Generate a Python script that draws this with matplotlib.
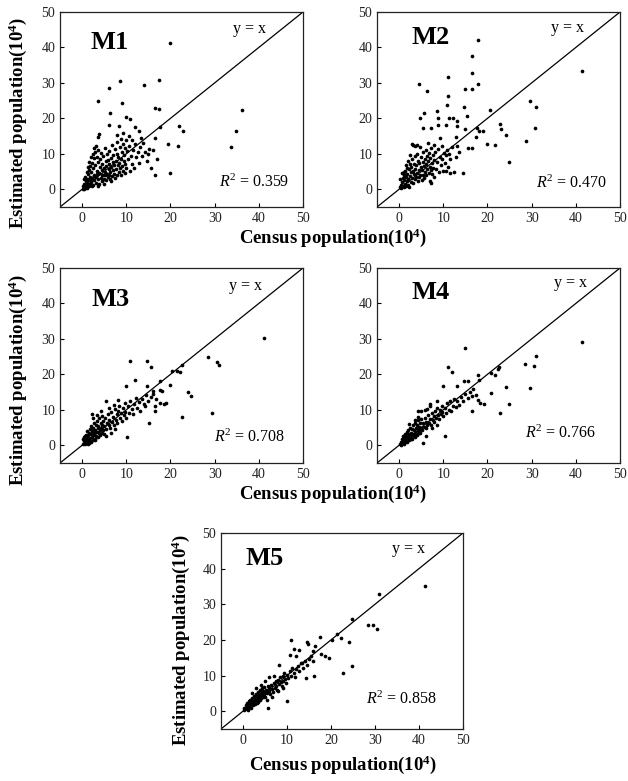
import matplotlib
matplotlib.use("Agg")
import matplotlib.pyplot as plt

plt.rcParams['font.family'] = ['Liberation Serif', 'DejaVu Serif']
plt.rcParams['mathtext.fontset'] = 'custom'
plt.rcParams['mathtext.rm'] = 'Liberation Serif'
plt.rcParams['mathtext.it'] = 'Liberation Serif:italic'
plt.rcParams['mathtext.bf'] = 'Liberation Serif:bold'

# ---------------- data (census, estimated) in 10^4 ----------------
m1_points = [
    (19.9, 41.3), (8.6, 30.6), (17.5, 30.8), (6.0, 28.5), (13.9, 29.4), (3.5, 24.9), (9.0, 24.2),
    (16.6, 22.9), (17.5, 22.7), (36.1, 22.4), (6.3, 21.5), (9.9, 20.5), (10.9, 19.9), (6.2, 18.0),
    (8.4, 17.9), (12.0, 17.6), (17.6, 17.7), (21.9, 17.9), (22.9, 16.5), (34.8, 16.3), (3.8, 15.6),
    (3.7, 14.7), (8.0, 15.4), (9.3, 15.8), (12.9, 16.5), (10.7, 14.9), (13.3, 14.6), (16.5, 14.5),
    (19.5, 12.8), (21.6, 12.2), (33.6, 12.0), (15.1, 11.4), (16.1, 11.0), (14.9, 10.0), (17.0, 8.5),
    (15.7, 6.0), (16.6, 3.9), (20.0, 4.5), (14.6, 8.1),
    (0.3, 0.8), (0.5, 1.5), (0.6, 0.4), (0.8, 2.2), (0.9, 1.0), (1.0, 3.0), (1.1, 0.6), (1.2, 1.8),
    (1.3, 4.2), (1.4, 2.6), (1.5, 0.9), (1.6, 5.5), (1.7, 3.4), (1.8, 1.4), (1.9, 6.5), (2.0, 2.0),
    (2.1, 4.8), (2.2, 7.5), (2.3, 3.1), (2.4, 1.2), (2.5, 5.9), (2.6, 8.8), (2.7, 2.5), (2.8, 4.0),
    (2.9, 10.5), (3.0, 6.8), (3.1, 1.8), (3.2, 3.6), (3.3, 9.2), (3.4, 5.1), (3.5, 2.9), (3.6, 7.7),
    (3.7, 11.0), (3.8, 4.5), (3.9, 1.5), (4.0, 6.2), (4.1, 8.5), (4.2, 3.3), (4.3, 10.2), (4.4, 5.4),
    (4.5, 2.2), (4.6, 7.0), (4.7, 4.1), (4.8, 9.4), (4.9, 6.0), (5.0, 3.0), (5.1, 11.5), (5.2, 5.0),
    (5.3, 7.9), (5.4, 2.6), (5.5, 6.6), (5.6, 9.9), (5.7, 4.3), (5.8, 8.3), (5.9, 3.5), (6.0, 5.8),
    (6.1, 10.8), (6.2, 7.2), (6.3, 2.9), (6.4, 4.9), (6.5, 8.9), (6.6, 6.3), (6.7, 3.8), (6.8, 12.5),
    (6.9, 5.3), (7.0, 7.6), (7.1, 9.6), (7.2, 4.4), (7.3, 6.8), (7.4, 3.2), (7.5, 11.3), (7.6, 8.0),
    (7.7, 5.6), (7.8, 10.0), (7.9, 4.0), (8.0, 13.2), (8.1, 6.9), (8.2, 9.0), (8.3, 4.8), (8.4, 7.4),
    (8.5, 11.8), (8.6, 5.9), (8.7, 14.3), (8.8, 8.6), (8.9, 3.9), (9.0, 10.4), (9.1, 6.5), (9.2, 12.9),
    (9.3, 5.1), (9.4, 8.1), (9.5, 9.8), (9.6, 4.6), (9.7, 11.6), (9.8, 7.2), (9.9, 13.8), (10.0, 6.0),
    (10.2, 10.9), (10.4, 8.4), (10.6, 12.2), (10.8, 5.2), (11.0, 9.3), (11.2, 14.0), (11.4, 7.0),
    (11.6, 11.0), (11.8, 6.1), (12.0, 12.8), (12.3, 9.0), (12.6, 10.6), (12.9, 7.5), (13.2, 11.8),
    (13.5, 9.5), (13.8, 13.0), (14.2, 10.5), (0.4, 2.8), (0.7, 3.6), (1.0, 5.0), (1.3, 6.2), (1.6, 7.8),
    (2.0, 9.0), (2.4, 10.0), (2.8, 11.5), (3.2, 12.1), (1.2, 0.3), (2.2, 0.8), (3.5, 1.0), (5.0, 1.6),
    (6.5, 2.2), (0.2, 0.2), (0.5, 0.1), (1.8, 2.8), (2.6, 3.8), (3.4, 4.2), (4.4, 3.9), (5.2, 4.0), (6.0, 4.0),
]

m2_points = [
    (17.9, 42.1), (16.4, 37.6), (16.6, 32.9), (11.1, 31.8), (4.5, 29.6), (41.5, 33.3), (6.4, 27.8),
    (14.9, 28.4), (16.6, 28.3), (17.8, 29.6), (11.1, 26.3), (29.6, 25.0), (31.0, 23.2), (14.7, 23.2),
    (10.9, 23.7), (5.6, 21.6), (8.5, 22.0), (15.3, 20.7), (20.5, 22.3), (4.7, 20.2), (11.3, 20.2),
    (12.2, 20.0), (13.0, 19.2), (8.7, 20.2), (30.7, 17.3), (22.8, 18.5), (23.0, 17.0), (17.7, 17.3),
    (18.0, 16.4), (19.0, 16.4), (5.4, 17.3), (7.3, 17.3), (8.8, 18.2), (10.7, 18.0), (13.0, 17.8),
    (14.9, 17.0), (24.3, 15.4), (17.4, 14.7), (12.8, 14.8), (9.2, 14.5), (28.7, 13.7), (20.0, 12.9),
    (21.6, 12.5), (15.6, 11.7), (16.5, 11.7), (24.8, 7.7), (14.4, 4.7), (3.2, 12.6), (4.1, 12.4),
    (11.5, 4.6), (10.7, 5.1), (7.3, 1.8),
    (0.2, 0.5), (0.4, 1.2), (0.5, 0.3), (0.6, 2.0), (0.7, 4.5), (0.8, 1.0), (0.9, 3.2), (1.0, 0.6),
    (1.1, 2.6), (1.2, 4.0), (1.3, 1.5), (1.4, 5.2), (1.5, 0.9), (1.6, 3.5), (1.7, 2.2), (1.8, 6.0),
    (1.9, 4.4), (2.0, 1.3), (2.1, 2.9), (2.2, 5.6), (2.3, 0.7), (2.4, 3.8), (2.5, 7.2), (2.6, 4.9),
    (2.7, 2.0), (2.8, 6.4), (2.9, 3.2), (3.0, 8.5), (3.1, 5.1), (3.2, 1.8), (3.3, 4.2), (3.4, 7.0),
    (3.5, 2.8), (3.6, 9.3), (3.7, 5.8), (3.8, 3.6), (3.9, 6.9), (4.0, 4.6), (4.1, 10.0), (4.2, 2.4),
    (4.3, 8.0), (4.4, 5.3), (4.5, 3.4), (4.6, 7.4), (4.7, 12.0), (4.8, 4.1), (4.9, 6.2), (5.0, 9.0),
    (5.1, 2.7), (5.2, 5.5), (5.3, 7.8), (5.4, 4.0), (5.5, 10.4), (5.6, 6.6), (5.7, 3.2), (5.8, 8.6),
    (5.9, 5.0), (6.0, 11.2), (6.1, 7.1), (6.2, 3.9), (6.3, 9.5), (6.4, 5.7), (6.5, 13.0), (6.6, 7.9),
    (6.7, 4.5), (6.8, 10.2), (6.9, 6.3), (7.0, 2.2), (7.1, 8.8), (7.2, 5.4), (7.3, 11.7), (7.4, 7.3),
    (7.5, 4.2), (7.6, 9.7), (7.7, 6.1), (7.8, 12.6), (7.9, 3.4), (8.0, 8.2), (8.2, 10.6), (8.4, 5.6),
    (8.6, 7.6), (8.8, 11.4), (9.0, 4.8), (9.2, 9.2), (9.4, 6.8), (9.6, 12.1), (9.8, 8.5), (10.0, 5.2),
    (10.2, 10.1), (10.4, 7.3), (10.6, 9.6), (10.8, 11.1), (11.0, 6.3), (11.3, 10.0), (11.6, 8.4),
    (12.0, 11.8), (12.4, 4.8), (12.8, 9.0), (13.2, 12.2), (13.6, 10.4), (0.3, 3.0), (1.0, 4.8),
    (1.5, 6.8), (2.0, 8.0), (2.5, 9.6), (3.0, 12.8), (3.5, 12.3),
]

m3_points = [
    (41.1, 30.3), (10.9, 23.7), (14.7, 23.7), (15.5, 22.0), (28.4, 24.8), (30.5, 23.4), (30.9, 22.7),
    (22.7, 22.7), (20.3, 21.0), (21.4, 20.9), (22.1, 20.6), (11.9, 18.3), (17.7, 18.0), (19.8, 17.1),
    (10.0, 16.6), (14.6, 16.8), (24.0, 14.9), (24.7, 13.8), (18.0, 15.2), (17.6, 15.7), (16.0, 15.2),
    (18.5, 11.7), (19.0, 11.8), (17.7, 11.8), (16.4, 11.0), (14.3, 11.0), (16.4, 9.6), (22.5, 8.0),
    (29.3, 9.1), (15.1, 6.3), (10.2, 2.3), (2.3, 8.9), (4.2, 9.6), (5.5, 12.4), (8.1, 12.9),
    (0.2, 0.5), (0.4, 1.2), (0.5, 2.2), (0.6, 0.3), (0.8, 1.6), (0.9, 3.0), (1.0, 0.9), (1.1, 2.4),
    (1.2, 4.0), (1.3, 1.4), (1.4, 2.9), (1.5, 0.6), (1.6, 3.6), (1.7, 2.0), (1.8, 4.6), (1.9, 1.1),
    (2.0, 3.1), (2.1, 5.4), (2.2, 2.4), (2.3, 3.9), (2.4, 1.6), (2.5, 4.9), (2.6, 2.9), (2.7, 6.2),
    (2.8, 3.5), (2.9, 1.9), (3.0, 4.4), (3.1, 5.7), (3.2, 2.6), (3.3, 3.8), (3.4, 6.9), (3.5, 4.9),
    (3.6, 2.3), (3.7, 5.4), (3.8, 3.4), (3.9, 7.6), (4.0, 4.4), (4.1, 2.9), (4.2, 6.2), (4.3, 5.0),
    (4.4, 3.6), (4.5, 8.2), (4.6, 5.8), (4.7, 4.2), (4.8, 6.9), (4.9, 3.2), (5.0, 5.4), (5.2, 7.6),
    (5.4, 4.6), (5.6, 6.4), (5.8, 8.8), (6.0, 5.6), (6.2, 7.2), (6.4, 4.8), (6.6, 9.4), (6.8, 6.6),
    (7.0, 8.0), (7.2, 5.6), (7.4, 10.2), (7.6, 7.2), (7.8, 8.8), (8.0, 6.4), (8.2, 9.6), (8.4, 11.2),
    (8.6, 7.8), (8.8, 9.0), (9.0, 6.9), (9.2, 10.4), (9.4, 8.4), (9.6, 12.0), (9.8, 9.4), (10.0, 7.6),
    (10.3, 11.0), (10.6, 9.2), (10.9, 12.6), (11.2, 10.2), (11.5, 8.8), (11.8, 11.6), (12.1, 13.4),
    (12.4, 10.6), (12.8, 12.2), (13.2, 9.8), (13.6, 13.0), (14.0, 11.6), (14.5, 14.2), (15.0, 12.6),
    (15.5, 13.6), (16.0, 14.6), (16.8, 13.0), (0.3, 1.8), (0.7, 2.6), (1.3, 0.4), (2.0, 0.8), (3.0, 1.4),
    (5.5, 2.6), (6.5, 3.4), (7.5, 4.6), (2.4, 7.6), (3.3, 8.4), (6.0, 10.6), (7.2, 11.4),
]

m4_points = [
    (41.5, 29.0), (14.9, 27.3), (31.0, 25.2), (28.6, 22.8), (30.6, 22.5), (11.1, 22.1), (12.0, 20.8),
    (22.7, 22.2), (22.3, 21.4), (20.7, 20.5), (21.7, 19.7), (17.9, 19.7), (18.0, 18.4), (14.7, 18.0),
    (15.6, 18.0), (24.3, 16.5), (29.6, 16.2), (13.1, 16.7), (10.0, 16.7), (16.8, 15.8), (20.9, 14.8),
    (17.5, 14.2), (17.9, 12.9), (18.4, 11.8), (19.2, 11.7), (24.8, 11.7), (22.8, 9.2), (16.5, 9.6),
    (10.3, 2.5), (5.4, 0.7), (4.3, 9.6), (6.9, 11.2), (8.5, 12.4),
    (0.2, 0.4), (0.4, 1.0), (0.5, 0.2), (0.6, 1.8), (0.8, 0.7), (0.9, 2.6), (1.0, 1.3), (1.1, 0.5),
    (1.2, 2.1), (1.3, 3.2), (1.4, 1.0), (1.5, 2.6), (1.6, 1.7), (1.7, 3.8), (1.8, 0.9), (1.9, 2.9),
    (2.0, 2.0), (2.1, 4.2), (2.2, 1.4), (2.3, 3.2), (2.4, 2.4), (2.5, 5.0), (2.6, 1.8), (2.7, 3.6),
    (2.8, 2.7), (2.9, 4.6), (3.0, 1.9), (3.1, 3.3), (3.2, 5.6), (3.3, 2.6), (3.4, 4.2), (3.5, 3.1),
    (3.6, 6.4), (3.7, 2.4), (3.8, 4.8), (3.9, 3.6), (4.0, 5.6), (4.1, 2.9), (4.2, 4.2), (4.3, 7.0),
    (4.4, 3.6), (4.5, 5.2), (4.6, 4.4), (4.7, 6.4), (4.8, 3.4), (4.9, 5.0), (5.0, 7.4), (5.2, 4.4),
    (5.4, 6.2), (5.6, 5.2), (5.8, 7.8), (6.0, 4.8), (6.2, 6.6), (6.4, 5.6), (6.6, 8.4), (6.8, 6.2),
    (7.0, 7.4), (7.2, 5.8), (7.4, 9.0), (7.6, 7.0), (7.8, 8.2), (8.0, 6.6), (8.2, 9.6), (8.4, 7.8),
    (8.6, 10.4), (8.8, 8.6), (9.0, 7.4), (9.2, 10.0), (9.4, 8.8), (9.6, 11.0), (9.8, 9.4), (10.0, 8.2),
    (10.3, 10.6), (10.6, 9.2), (10.9, 11.8), (11.2, 10.0), (11.5, 12.4), (11.8, 9.6), (12.1, 11.2),
    (12.4, 13.0), (12.8, 10.8), (13.2, 12.6), (13.6, 11.4), (14.0, 13.6), (14.5, 12.4), (15.0, 14.4),
    (15.5, 13.2), (16.0, 15.0), (16.6, 14.0), (3.5, 7.2), (4.2, 8.0), (5.0, 9.6), (5.8, 10.0),
    (6.4, 10.2), (7.0, 11.6), (2.2, 6.0), (6.0, 2.6), (7.5, 4.8), (8.5, 5.8),
]

m5_points = [
    (41.3, 35.2), (30.9, 33.0), (28.5, 24.3), (29.5, 24.3), (30.4, 23.0), (24.8, 26.0), (21.3, 21.7),
    (22.3, 20.5), (20.3, 20.0), (24.1, 19.3), (19.6, 14.9), (18.7, 15.4), (17.7, 16.0), (17.5, 20.7),
    (10.8, 19.9), (14.5, 19.4), (14.7, 18.9), (11.7, 17.4), (12.8, 17.2), (12.0, 15.5), (16.4, 18.2),
    (16.0, 16.8), (24.8, 12.8), (22.7, 10.7), (16.2, 9.9), (14.4, 9.3), (10.1, 2.8), (5.6, 0.9),
    (8.2, 13.0), (10.6, 15.8), (13.4, 13.5),
    (0.2, 0.3), (0.3, 1.0), (0.5, 0.5), (0.6, 1.6), (0.8, 0.9), (0.9, 2.2), (1.0, 1.2), (1.1, 0.4),
    (1.2, 1.9), (1.3, 2.8), (1.4, 1.2), (1.5, 2.3), (1.6, 1.6), (1.7, 3.2), (1.8, 2.0), (1.9, 1.0),
    (2.0, 2.7), (2.1, 3.8), (2.2, 1.7), (2.3, 2.9), (2.4, 2.2), (2.5, 4.2), (2.6, 2.6), (2.7, 3.4),
    (2.8, 1.9), (2.9, 4.8), (3.0, 3.1), (3.1, 2.4), (3.2, 4.0), (3.3, 5.4), (3.4, 3.3), (3.5, 2.7),
    (3.6, 4.6), (3.7, 3.8), (3.8, 5.9), (3.9, 3.0), (4.0, 4.3), (4.1, 5.2), (4.2, 3.6), (4.3, 6.4),
    (4.4, 4.8), (4.5, 3.9), (4.6, 5.6), (4.7, 4.3), (4.8, 6.9), (4.9, 5.0), (5.0, 4.0), (5.2, 6.0),
    (5.4, 5.0), (5.6, 7.2), (5.8, 5.6), (6.0, 6.4), (6.2, 4.8), (6.4, 7.4), (6.6, 6.2), (6.8, 5.4),
    (7.0, 7.8), (7.2, 6.6), (7.4, 8.4), (7.6, 7.0), (7.8, 6.0), (8.0, 8.8), (8.2, 7.6), (8.4, 9.6),
    (8.6, 8.2), (8.8, 7.0), (9.0, 9.8), (9.2, 8.6), (9.4, 10.6), (9.6, 9.0), (9.8, 7.8), (10.0, 10.2),
    (10.3, 9.2), (10.6, 11.4), (10.9, 10.0), (11.2, 12.0), (11.5, 10.8), (11.8, 9.6), (12.1, 11.8),
    (12.4, 12.8), (12.8, 11.4), (13.2, 13.4), (13.6, 12.2), (14.0, 14.0), (14.5, 13.0), (15.0, 14.6),
    (15.5, 15.4), (16.0, 14.2), (3.0, 6.4), (4.0, 7.4), (5.0, 8.4), (6.0, 9.6), (7.0, 10.0), (2.0, 5.2),
    (5.5, 3.0), (6.5, 4.0), (8.0, 5.8), (9.0, 6.4),
]

model_names = ['M1', 'M2', 'M3', 'M4', 'M5']
r2_values = [0.359, 0.470, 0.708, 0.766, 0.858]
tick_values = [0, 10, 20, 30, 40, 50]
axis_range = (-5, 50)
x_label = r'Census population(10$^{\mathbf{4}}$)'
y_label = r'Estimated population(10$^{\mathbf{4}}$)'

all_points = [m1_points, m2_points, m3_points, m4_points, m5_points]

# ---------------- layout ----------------
W, H = 628, 781
fig = plt.figure(figsize=(W / 100, H / 100), dpi=100)

def px_axes(left, top, right, bottom):
    return [left / W, 1 - bottom / H, (right - left) / W, (bottom - top) / H]

axes_px = [
    (60, 12, 303, 207),
    (377, 12, 620, 207),
    (60, 268, 303, 463),
    (377, 268, 620, 463),
    (221, 533, 463, 729),
]
# text anchors (data coords): model label, y=x label, R2 label
label_pos = [(1.8, 39.7), (2.8, 40.9), (2.1, 39.2), (2.8, 41.2), (0.5, 41.1)]
yx_pos = [(34.1, 44.1), (34.3, 44.3), (33.2, 43.9), (35.0, 44.7), (33.8, 44.4)]
r2_pos = [(31.0, 0.7), (31.1, 0.4), (29.9, 0.8), (28.6, 2.1), (27.9, 2.1)]

for i, (pts, name, r2) in enumerate(zip(all_points, model_names, r2_values)):
    ax = fig.add_axes(px_axes(*axes_px[i]))
    xs = [p[0] for p in pts]
    ys = [p[1] for p in pts]
    ax.plot(axis_range, axis_range, color='black', lw=0.9, zorder=1)
    ax.scatter(xs, ys, s=7, color='black', linewidths=0, zorder=2)
    ax.set_xlim(*axis_range)
    ax.set_ylim(*axis_range)
    ax.set_xticks(tick_values)
    ax.set_yticks(tick_values)
    ax.tick_params(direction='in', length=3, width=0.8, labelsize=10,
                   colors='black', labelcolor='#222222', pad=3.5)
    for sp in ax.spines.values():
        sp.set_linewidth(0.9)
        sp.set_color('#222222')
    ax.text(*label_pos[i], name, fontsize=19, fontweight='bold', ha='left', va='baseline')
    ax.text(*yx_pos[i], 'y = x', fontsize=11.5, ha='left', va='baseline')
    ax.text(*r2_pos[i], r'$\mathit{R}^{2}$' + ' = {:.3f}'.format(r2), fontsize=11.5,
            ha='left', va='baseline')

# axis titles
xlabel_pos = [(333, 238), (333, 494), (343, 765)]
for (x, y) in xlabel_pos:
    fig.text(x / W, 1 - y / H, x_label, fontsize=13.5, fontweight='bold', ha='center', va='center')
ylabel_pos = [(18, 123), (18, 380), (181, 640)]
for (x, y) in ylabel_pos:
    fig.text(x / W, 1 - y / H, y_label, fontsize=13.5, fontweight='bold', ha='center', va='center',
             rotation=90)

fig.savefig('out.png', dpi=100)
